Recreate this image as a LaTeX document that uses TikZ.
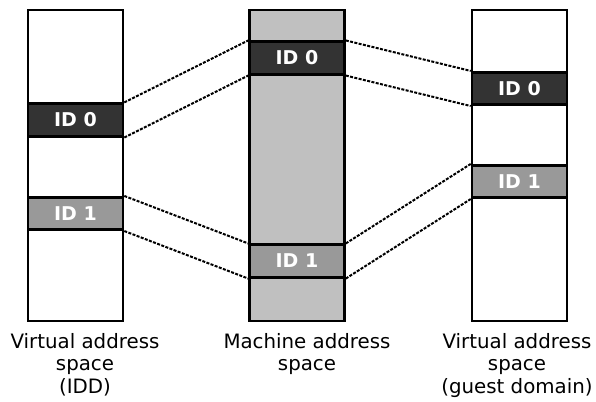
\documentclass[tikz,border=0pt]{standalone}
\usepackage{fontspec}
\setmainfont{DejaVu Sans}
\definecolor{darkid}{HTML}{333333}
\definecolor{lightid}{HTML}{999999}
\definecolor{machine}{HTML}{C0C0C0}
\begin{document}
\begin{tikzpicture}[x=1pt,y=-1pt,
  colbox/.style={draw=black,line width=2.6pt,minimum width=95pt,minimum height=311pt,inner sep=0pt,fill=white},
  idbox/.style={draw=black,line width=2.6pt,minimum width=95pt,minimum height=32.5pt,inner sep=0pt,text=white,font=\fontsize{19}{22}\selectfont\bfseries},
  darkbox/.style={idbox,fill=darkid},
  lightbox/.style={idbox,fill=lightid},
  conn/.style={line width=2pt,dash pattern=on 3pt off 1.4pt},
  lbl/.style={anchor=north,inner sep=0pt,align=center,font=\fontsize{19.8}{22.5}\selectfont}
]
\useasboundingbox (0,0) rectangle (596,401);
\node[colbox] (lc) at (75.5,165.5) {};
\node[colbox,fill=machine] (mc) at (297,165.5) {};
\node[colbox] (rc) at (519.5,165.5) {};
\node[darkbox] (l0) at (75.5,120) {ID 0};
\node[lightbox] (l1) at (75.5,213.5) {ID 1};
\node[darkbox] (m0) at (297,58) {ID 0};
\node[lightbox] (m1) at (297,261) {ID 1};
\node[darkbox] (r0) at (519.5,88.5) {ID 0};
\node[lightbox] (r1) at (519.5,181.5) {ID 1};
\draw[conn] (l0.north east) -- (m0.north west);
\draw[conn] (l0.south east) -- (m0.south west);
\draw[conn] (m0.north east) -- (r0.north west);
\draw[conn] (m0.south east) -- (r0.south west);
\draw[conn] (l1.north east) -- (m1.north west);
\draw[conn] (l1.south east) -- (m1.south west);
\draw[conn] (m1.north east) -- (r1.north west);
\draw[conn] (m1.south east) -- (r1.south west);
\node[lbl] (lt) at (85,333) {Virtual address\\space\\(IDD)};
\node[lbl] (mt) at (307,333) {Machine address\\space};
\node[lbl] (rt) at (517,333) {Virtual address\\space\\(guest domain)};
\end{tikzpicture}
\end{document}
